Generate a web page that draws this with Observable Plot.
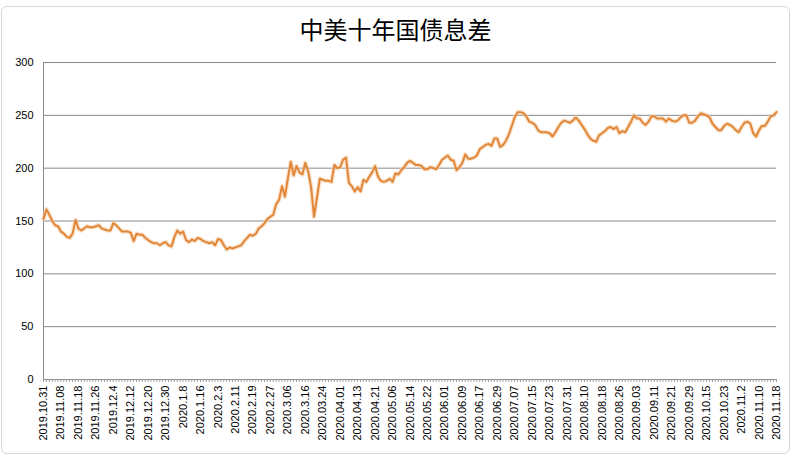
<!DOCTYPE html>
<html>
<head>
<meta charset="utf-8">
<script src="https://cdn.jsdelivr.net/npm/d3@7"></script>
<script src="https://cdn.jsdelivr.net/npm/@observablehq/plot@0.6"></script>
<style>
  body { margin: 0; background: #fff; width: 791px; height: 457px; overflow: hidden; position: relative; }
  #frame { position: absolute; left: 1px; top: 6px; right: 1px; bottom: 3px; border: 1px solid #d6d6d6; border-radius: 6px; pointer-events: none; }
  #title { height: 45px; box-sizing: border-box; padding-top: 17px; text-align: center; font-family: "Noto Sans CJK SC", sans-serif; font-size: 24px; line-height: 24px; color: #000; }
  #chart { display: block; }
</style>
</head>
<body>
<div id="frame"></div>
<div id="title">中美十年国债息差</div>
<div id="chart"></div>
<script>
// Category labels shown on the x axis (every 6th trading day)
const dateLabels = ["2019.10.31","2019.11.08","2019.11.18","2019.11.26","2019.12.4","2019.12.12","2019.12.20","2019.12.30",
  "2020.1.8","2020.1.16","2020.2.3","2020.2.11","2020.2.19","2020.2.27","2020.3.06","2020.3.16","2020.03.24","2020.04.01",
  "2020.04.13","2020.04.21","2020.05.06","2020.05.14","2020.05.22","2020.06.01","2020.06.09","2020.06.17","2020.06.29",
  "2020.07.07","2020.07.15","2020.07.23","2020.07.31","2020.08.10","2020.08.18","2020.08.26","2020.09.03","2020.09.11",
  "2020.09.21","2020.09.29","2020.10.15","2020.10.23","2020.11.2","2020.11.10","2020.11.18"];
const labelStep = 6;

// China-US 10-year yield spread (bp), one value per trading day
const spread = [
  152,161,156,150,146,145,140,138,135,134,138,151,143,141,143,145,144,144,145,146,
  143,142,141,141,148,146,143,140,140,140,139,131,138,137,137,134,132,130,129,129,
  127,129,130,127,126,135,141,138,140,132,130,132.5,131,134,133,131,130,129,130,127,
  133,132,127,123,125,124,125,126,127,131,134,137,136,138,143,145,148,152,154,156,
  166,170,183,173,190,206,193,202,196,194,205,197,182,154,172,190,189,188,188,187,
  203,200,201,208,210,186,183,178,182,178,189,187,192,196,202,192,188,187,188,190,
  187,195,194,198,201,205,207,205,203,203,202,199,199,201,200,199,203,208,210,212,
  208,207,198,201,205,213,209,209,210,212,218,220,222,223,221,228,228,220,222,226,
  232,240,248,253,253,252,249,244,243,241,236,234,234,234,233,230,234,239,243,245,
  244,243,245,248,245,241,237,232,228,226,225,231,233,235,238,239,237,239,233,235,
  234,239,244,250,247,247,243,241,244,249,249,247,247,247,244,247,245,244,245,248,
  250,250,243,243,245,249,252,251,250,248,242,239,236,236,240,242,241,239,236,234,
  239,243,244,242,233,230,236,240,240,244,249,250,253
];

const yTicks = [0, 50, 100, 150, 200, 250, 300];

const data = spread.map((v, i) => ({ idx: i, value: v }));
const labelIdx = dateLabels.map((_, k) => k * labelStep);
const allIdx = d3.range(0, spread.length);

const chart = Plot.plot({
  width: 791,
  height: 412,
  marginLeft: 43,
  marginRight: 15,
  marginTop: 17,
  marginBottom: 78,
  x: { type: "linear", domain: [0, spread.length - 1] },
  y: { domain: [0, 300] },
  style: { fontFamily: "Liberation Sans, Arial, sans-serif", fontSize: "11px", color: "#000", background: "#fff" },
  marks: [
    Plot.ruleY(yTicks, { stroke: "#8a8a8a", strokeWidth: 1 }),
    Plot.ruleX([0], { stroke: "#8a8a8a", strokeWidth: 1 }),
    Plot.axisY({ ticks: yTicks, tickSize: 0, tickPadding: 10, label: null }),
    Plot.axisX({ ticks: allIdx, tickSize: 3, tickFormat: () => "", label: null, stroke: "#a0a0a0" }),
    Plot.axisX({ ticks: labelIdx, tickSize: 0, tickPadding: 6, tickRotate: -90, tickFormat: i => dateLabels[Math.round(i / labelStep)], label: null }),
    Plot.lineY(data, { x: "idx", y: "value", stroke: "#f6cfa6", strokeWidth: 4.5, strokeOpacity: 0.6 }),
    Plot.lineY(data, { x: "idx", y: "value", stroke: "#e0873a", strokeWidth: 2 })
  ]
});
document.getElementById("chart").appendChild(chart);
</script>
</body>
</html>
